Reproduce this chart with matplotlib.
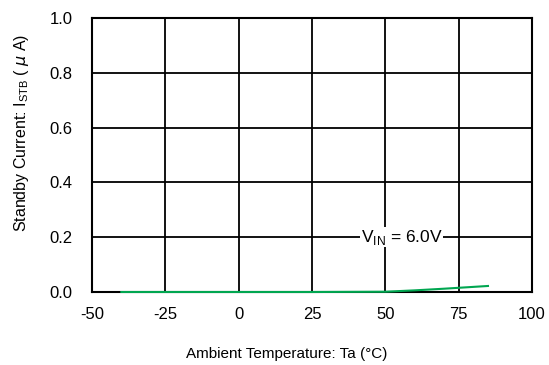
import numpy as np
import matplotlib.pyplot as plt

plt.rcParams['font.family'] = ['Liberation Sans', 'DejaVu Sans']

temps = [-40, -25, 0, 25, 50, 60, 70, 85]
current = [0.0, 0.0, 0.0, 0.0, 0.001, 0.006, 0.012, 0.022]
xticks = [-50, -25, 0, 25, 50, 75, 100]
yticks = [0.0, 0.2, 0.4, 0.6, 0.8, 1.0]

fig = plt.figure(figsize=(5.49, 3.65), dpi=100)
ax = fig.add_axes([0.1676, 0.2, 0.8014, 0.7507])

ax.plot(temps, current, color='#00a650', lw=1.5, zorder=5, clip_on=False)

ax.set_xlim(-50, 100)
ax.set_ylim(0, 1.0)
ax.set_xticks(xticks)
ax.set_yticks(yticks)
ax.set_xticklabels([str(t) for t in xticks])
ax.set_yticklabels(['%.1f' % v for v in yticks])
ax.grid(True, color='black', lw=1.3)
ax.tick_params(length=0, labelsize=12)
ax.tick_params(axis='y', pad=14)
ax.tick_params(axis='x', pad=11)
for s in ax.spines.values():
    s.set_linewidth(1.5)

ax.text(55.5, 0.2, r'V$_{\mathregular{IN}}$ = 6.0V', ha='center', va='center', fontsize=12.5,
        bbox=dict(facecolor='white', edgecolor='none', pad=0.5), zorder=6)

ax.set_xlabel('Ambient Temperature: Ta (°C)', fontsize=11, labelpad=18)
ax.set_ylabel(r'Standby Current: I$_{\mathregular{STB}}$ ( $\mu$ A)', fontsize=11.5, labelpad=13)
ax.xaxis.label.set_x(0.443)
ax.yaxis.label.set_y(0.58)

fig.savefig('out.png', dpi=100)
